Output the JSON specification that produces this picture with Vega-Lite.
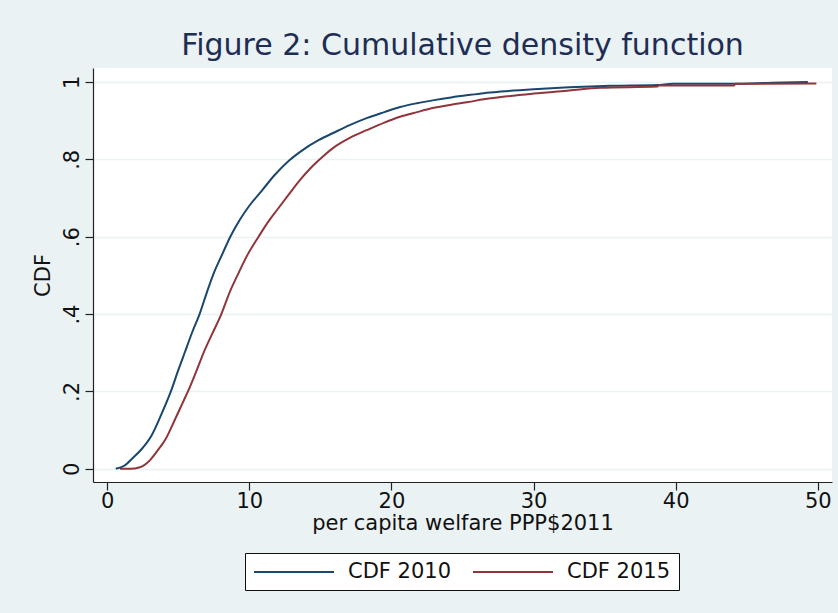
{
  "$schema": "https://vega.github.io/schema/vega-lite/v6.json",
  "autosize": "none",
  "padding": {"left": 93, "top": 68, "right": 6, "bottom": 131},
  "width": 739,
  "height": 414,
  "background": "#EAF2F3",
  "config": {
    "view": {"fill": "white", "stroke": null},
    "font": "DejaVu Sans",
    "axis": {
      "domainColor": "#222222",
      "domainWidth": 1.2,
      "tickColor": "#222222",
      "tickWidth": 1.2,
      "tickSize": 8,
      "labelFontSize": 21,
      "labelColor": "#111111",
      "titleFontSize": 21,
      "titleFontWeight": "normal",
      "titleColor": "#111111",
      "gridColor": "#EAF2F3",
      "gridWidth": 1.6,
      "gridOpacity": 1
    }
  },
  "title": {
    "text": "Figure 2: Cumulative density function",
    "fontSize": 30,
    "fontWeight": "normal",
    "color": "#1E2D53",
    "anchor": "middle",
    "baseline": "alphabetic",
    "offset": -17
  },
  "data": {
    "values": [
      {"series": "CDF 2010", "x": 0.6, "cdf": 0},
      {"series": "CDF 2010", "x": 1.2, "cdf": 0.008},
      {"series": "CDF 2010", "x": 1.8, "cdf": 0.028},
      {"series": "CDF 2010", "x": 2.4, "cdf": 0.05},
      {"series": "CDF 2010", "x": 3.1, "cdf": 0.085},
      {"series": "CDF 2010", "x": 3.8, "cdf": 0.14},
      {"series": "CDF 2010", "x": 4.48, "cdf": 0.2},
      {"series": "CDF 2010", "x": 5.0, "cdf": 0.255},
      {"series": "CDF 2010", "x": 5.45, "cdf": 0.3},
      {"series": "CDF 2010", "x": 6.0, "cdf": 0.355},
      {"series": "CDF 2010", "x": 6.5, "cdf": 0.4},
      {"series": "CDF 2010", "x": 7.0, "cdf": 0.455},
      {"series": "CDF 2010", "x": 7.5, "cdf": 0.506},
      {"series": "CDF 2010", "x": 8.1, "cdf": 0.555},
      {"series": "CDF 2010", "x": 8.66, "cdf": 0.6},
      {"series": "CDF 2010", "x": 9.3, "cdf": 0.642},
      {"series": "CDF 2010", "x": 10.0, "cdf": 0.68},
      {"series": "CDF 2010", "x": 10.9, "cdf": 0.72},
      {"series": "CDF 2010", "x": 11.8, "cdf": 0.76},
      {"series": "CDF 2010", "x": 12.8, "cdf": 0.797},
      {"series": "CDF 2010", "x": 13.6, "cdf": 0.82},
      {"series": "CDF 2010", "x": 14.9, "cdf": 0.85},
      {"series": "CDF 2010", "x": 15.9, "cdf": 0.868},
      {"series": "CDF 2010", "x": 17.1, "cdf": 0.889},
      {"series": "CDF 2010", "x": 18.3, "cdf": 0.907},
      {"series": "CDF 2010", "x": 19.5, "cdf": 0.922},
      {"series": "CDF 2010", "x": 20.6, "cdf": 0.935},
      {"series": "CDF 2010", "x": 21.8, "cdf": 0.945},
      {"series": "CDF 2010", "x": 23.0, "cdf": 0.953},
      {"series": "CDF 2010", "x": 24.2, "cdf": 0.96},
      {"series": "CDF 2010", "x": 25.4, "cdf": 0.966},
      {"series": "CDF 2010", "x": 26.5, "cdf": 0.971},
      {"series": "CDF 2010", "x": 27.7, "cdf": 0.975},
      {"series": "CDF 2010", "x": 30.0, "cdf": 0.981},
      {"series": "CDF 2010", "x": 32.5, "cdf": 0.986},
      {"series": "CDF 2010", "x": 35.4, "cdf": 0.99},
      {"series": "CDF 2010", "x": 38.7, "cdf": 0.992},
      {"series": "CDF 2010", "x": 39.8, "cdf": 0.995},
      {"series": "CDF 2010", "x": 44.1, "cdf": 0.995},
      {"series": "CDF 2010", "x": 46.8, "cdf": 0.998},
      {"series": "CDF 2010", "x": 49.3, "cdf": 1.0},
      {"series": "CDF 2015", "x": 0.9, "cdf": 0},
      {"series": "CDF 2015", "x": 1.6, "cdf": 0},
      {"series": "CDF 2015", "x": 2.3, "cdf": 0.004},
      {"series": "CDF 2015", "x": 3.0, "cdf": 0.022},
      {"series": "CDF 2015", "x": 3.5, "cdf": 0.045},
      {"series": "CDF 2015", "x": 4.08, "cdf": 0.075},
      {"series": "CDF 2015", "x": 4.8, "cdf": 0.13},
      {"series": "CDF 2015", "x": 5.3, "cdf": 0.17},
      {"series": "CDF 2015", "x": 5.8, "cdf": 0.21},
      {"series": "CDF 2015", "x": 6.3, "cdf": 0.255},
      {"series": "CDF 2015", "x": 6.78, "cdf": 0.3},
      {"series": "CDF 2015", "x": 7.4, "cdf": 0.35},
      {"series": "CDF 2015", "x": 8.03, "cdf": 0.4},
      {"series": "CDF 2015", "x": 8.6, "cdf": 0.455},
      {"series": "CDF 2015", "x": 9.24, "cdf": 0.506},
      {"series": "CDF 2015", "x": 9.9, "cdf": 0.555},
      {"series": "CDF 2015", "x": 10.65, "cdf": 0.6},
      {"series": "CDF 2015", "x": 11.3, "cdf": 0.637},
      {"series": "CDF 2015", "x": 11.95, "cdf": 0.669},
      {"series": "CDF 2015", "x": 12.9, "cdf": 0.715},
      {"series": "CDF 2015", "x": 13.6, "cdf": 0.748},
      {"series": "CDF 2015", "x": 14.3, "cdf": 0.777},
      {"series": "CDF 2015", "x": 15.2, "cdf": 0.808},
      {"series": "CDF 2015", "x": 16.0, "cdf": 0.832},
      {"series": "CDF 2015", "x": 17.1, "cdf": 0.856},
      {"series": "CDF 2015", "x": 18.3, "cdf": 0.876},
      {"series": "CDF 2015", "x": 19.5, "cdf": 0.895},
      {"series": "CDF 2015", "x": 20.6, "cdf": 0.91},
      {"series": "CDF 2015", "x": 21.8, "cdf": 0.922},
      {"series": "CDF 2015", "x": 23.0, "cdf": 0.933},
      {"series": "CDF 2015", "x": 24.2, "cdf": 0.941},
      {"series": "CDF 2015", "x": 25.4, "cdf": 0.948},
      {"series": "CDF 2015", "x": 26.5, "cdf": 0.955},
      {"series": "CDF 2015", "x": 27.7, "cdf": 0.961},
      {"series": "CDF 2015", "x": 30.0, "cdf": 0.97},
      {"series": "CDF 2015", "x": 32.5, "cdf": 0.978},
      {"series": "CDF 2015", "x": 34.7, "cdf": 0.985},
      {"series": "CDF 2015", "x": 38.7, "cdf": 0.988},
      {"series": "CDF 2015", "x": 38.8, "cdf": 0.991},
      {"series": "CDF 2015", "x": 44.1, "cdf": 0.991},
      {"series": "CDF 2015", "x": 44.2, "cdf": 0.995},
      {"series": "CDF 2015", "x": 49.9, "cdf": 0.996}
    ]
  },
  "mark": {"type": "line", "strokeWidth": 2, "interpolate": "monotone"},
  "encoding": {
    "x": {
      "field": "x",
      "type": "quantitative",
      "scale": {"domain": [-1, 51], "nice": false, "zero": false},
      "axis": {
        "values": [0, 10, 20, 30, 40, 50],
        "grid": false,
        "title": "per capita welfare PPP$2011",
        "labelPadding": 0,
        "titlePadding": 1
      }
    },
    "y": {
      "field": "cdf",
      "type": "quantitative",
      "scale": {"domain": [-0.034, 1.036], "nice": false, "zero": false},
      "axis": {
        "values": [0, 0.2, 0.4, 0.6, 0.8, 1],
        "labelExpr": "datum.value == 0 ? '0' : datum.value == 1 ? '1' : replace(format(datum.value, '.1f'), '0.', '.')",
        "labelAngle": -90,
        "labelAlign": "center",
        "labelBaseline": "bottom",
        "labelPadding": 3,
        "grid": true,
        "title": "CDF",
        "titlePadding": 8
      }
    },
    "color": {
      "field": "series",
      "type": "nominal",
      "scale": {"domain": ["CDF 2010", "CDF 2015"], "range": ["#1A476F", "#90353B"]},
      "legend": {
        "orient": "none",
        "legendX": 152,
        "legendY": 485,
        "direction": "horizontal",
        "columns": 2,
        "title": null,
        "symbolType": "M-4,0H4",
        "symbolSize": 400,
        "symbolOffset": 30,
        "symbolStrokeWidth": 2,
        "labelFontSize": 21,
        "labelColor": "#111111",
        "labelOffset": 43,
        "columnPadding": 17,
        "padding": 8,
        "strokeColor": "#111111",
        "fillColor": "white"
      }
    }
  }
}
